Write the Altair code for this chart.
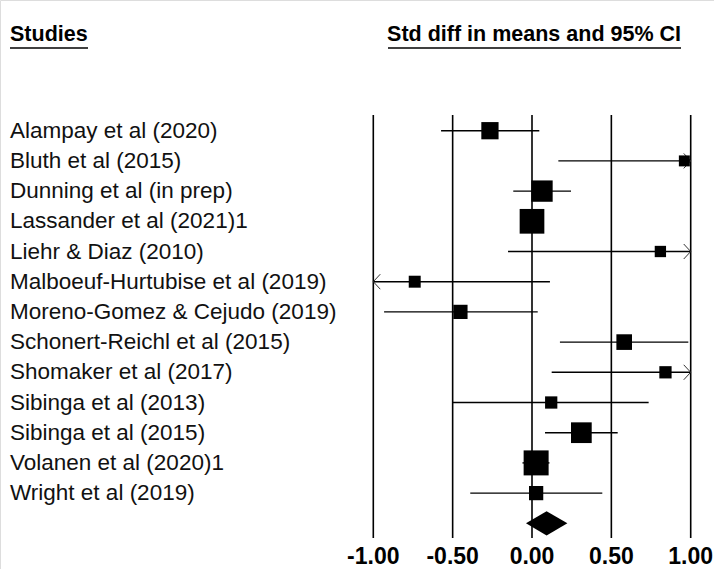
import altair as alt
import pandas as pd

# Study-level effects (standardised mean difference with 95% CI) and weights (%)
studies = [
    "Alampay et al (2020)",
    "Bluth et al (2015)",
    "Dunning et al (in prep)",
    "Lassander et al (2021)1",
    "Liehr & Diaz (2010)",
    "Malboeuf-Hurtubise et al (2019)",
    "Moreno-Gomez & Cejudo (2019)",
    "Schonert-Reichl et al (2015)",
    "Shomaker et al (2017)",
    "Sibinga et al (2013)",
    "Sibinga et al (2015)",
    "Volanen et al (2020)1",
    "Wright et al (2019)",
]
smd = [-0.265, 0.96, 0.063, 0.0, 0.809, -0.739, -0.451, 0.581, 0.841, 0.121, 0.311, 0.026, 0.026]
ci_low = [-0.573, 0.166, -0.118, -0.07, -0.151, -1.59, -0.932, 0.176, 0.124, -0.500, 0.082, -0.060, -0.389]
ci_high = [0.046, 1.75, 0.246, 0.07, 1.77, 0.113, 0.036, 0.985, 1.56, 0.735, 0.540, 0.110, 0.443]
weight = [7.9, 3.2, 12.1, 16.2, 3.4, 3.8, 5.4, 6.5, 4.0, 4.0, 11.4, 16.6, 5.4]

# Pooled estimate
pooled_low, pooled_est, pooled_high = -0.038, 0.092, 0.223

tick_values = [-1.0, -0.5, 0.0, 0.5, 1.0]
tick_labels = ["-1.00", "-0.50", "0.00", "0.50", "1.00"]

FONT = "Liberation Sans"

df = pd.DataFrame({
    "row": list(range(len(studies))),
    "study": studies,
    "smd": smd,
    "lo": ci_low,
    "hi": ci_high,
    "weight": weight,
})
df["lo_c"] = df["lo"].clip(lower=-1.0)
df["hi_c"] = df["hi"].clip(upper=1.0)

pooled_row = len(studies)
diamond = pd.DataFrame({
    "x": [pooled_low, pooled_est, pooled_high],
    "y": [pooled_row, pooled_row - 0.4, pooled_row],
    "y2": [pooled_row, pooled_row + 0.4, pooled_row],
})

ticks = pd.DataFrame({"t": tick_values, "label": tick_labels})

xs = alt.Scale(domain=[-1, 1], range=[373.3, 690.7])
ys = alt.Scale(domain=[0, pooled_row], range=[130.7, 523.3])

X = lambda f: alt.X(f, type="quantitative", scale=xs, axis=None)
Y = lambda f: alt.Y(f, type="quantitative", scale=ys, axis=None)

grid = alt.Chart(ticks).mark_rule(color="black", strokeWidth=1.6).encode(
    x=X("t"), y=alt.value(115), y2=alt.value(538)
)

ci = alt.Chart(df).mark_rule(color="black", strokeWidth=1.4).encode(
    x=X("lo_c"), x2="hi_c", y=Y("row")
)

boxes = alt.Chart(df).mark_square(color="black", opacity=1, filled=True).encode(
    x=X("smd"), y=Y("row"),
    size=alt.Size("weight:Q", scale=alt.Scale(domain=[0, 100], range=[0, 3765]), legend=None),
)

right_arrow = alt.Chart(df).transform_filter("datum.hi > 1").transform_calculate(edge="1").mark_point(
    shape="M -0.93 -1 L 0 0 L -0.93 1", size=225, filled=False, color="#333", strokeWidth=1, opacity=1
).encode(x=X("edge"), y=Y("row"))

left_arrow = alt.Chart(df).transform_filter("datum.lo < -1").transform_calculate(edge="-1").mark_point(
    shape="M 0.93 -1 L 0 0 L 0.93 1", size=225, filled=False, color="#333", strokeWidth=1, opacity=1
).encode(x=X("edge"), y=Y("row"))

pooled = alt.Chart(diamond).mark_area(color="black", opacity=1, orient="vertical").encode(
    x=X("x"), y=Y("y"), y2="y2"
)

labels = alt.Chart(df).mark_text(
    align="left", baseline="middle", font=FONT, fontSize=22.5, color="#111"
).encode(x=alt.value(10), y=Y("row"), text="study:N")

tick_text = alt.Chart(ticks).mark_text(
    align="center", baseline="alphabetic", font=FONT, fontSize=23, fontWeight="bold", color="black"
).encode(x=X("t"), y=alt.value(564), text="label:N")

head_left = alt.Chart(pd.DataFrame({"h": ["Studies"]})).mark_text(
    align="left", baseline="alphabetic", font=FONT, fontSize=21.5, fontWeight="bold", color="black"
).encode(x=alt.value(10), y=alt.value(41), text="h:N")

head_right = alt.Chart(pd.DataFrame({"h": ["Std diff in means and 95% CI"]})).mark_text(
    align="right", baseline="alphabetic", font=FONT, fontSize=21.5, fontWeight="bold", color="black"
).encode(x=alt.value(681), y=alt.value(41), text="h:N")

underline_left = alt.Chart(pd.DataFrame({"h": [0]})).mark_rule(color="black", strokeWidth=1.4).encode(
    x=alt.value(10), x2=alt.value(88), y=alt.value(48)
)
underline_right = alt.Chart(pd.DataFrame({"h": [0]})).mark_rule(color="black", strokeWidth=1.4).encode(
    x=alt.value(388), x2=alt.value(681), y=alt.value(48)
)

chart = alt.layer(
    grid, ci, right_arrow, left_arrow, boxes, pooled, labels, tick_text,
    head_left, head_right, underline_left, underline_right,
).properties(
    width=714, height=569, padding=0,
    autosize=alt.AutoSizeParams(type="none"),
).configure_view(stroke=None).configure(background="white")

chart.save("out.html", embed_options={"renderer": "svg", "actions": False})
